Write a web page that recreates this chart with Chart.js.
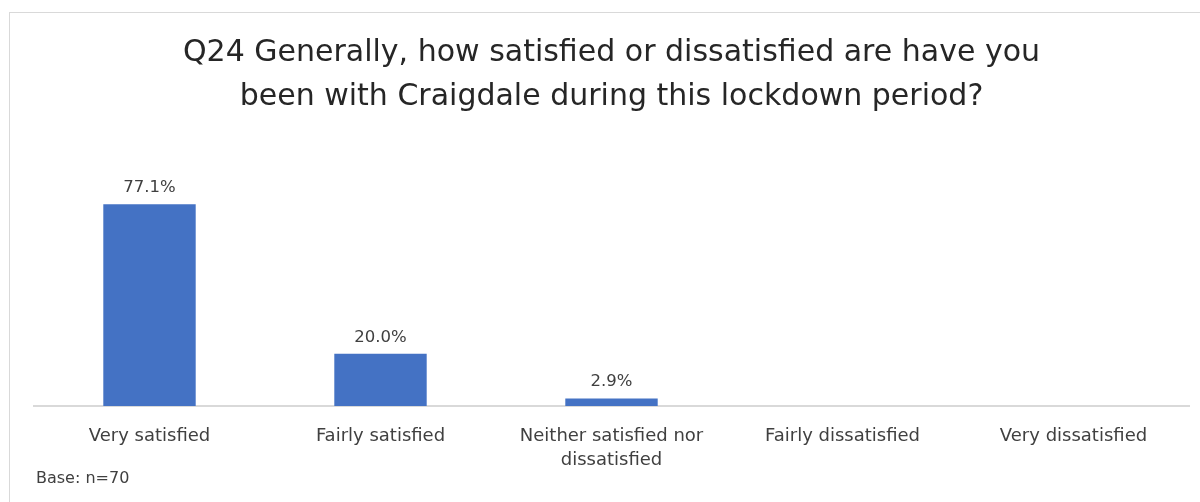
<!DOCTYPE html>
<html>
<head>
<meta charset="utf-8">
<script src="https://cdn.jsdelivr.net/npm/chart.js@4"></script>
<style>
  html, body { margin: 0; padding: 0; background: #fff; overflow: hidden; }
  #frame {
    position: absolute; left: 9px; top: 12px;
    width: 1200px; height: 500px;
    border: 1px solid #d9d9d9;
  }
</style>
</head>
<body>
<div id="frame"><canvas id="chart" width="1200" height="500"></canvas></div>
<script>
// Chart data
const categories = [
  'Very satisfied',
  'Fairly satisfied',
  ['Neither satisfied nor', 'dissatisfied'],
  'Fairly dissatisfied',
  'Very dissatisfied'
];
const percentages = [77.1, 20.0, 2.9, 0, 0];
const titleLines = [
  'Q24 Generally, how satisfied or dissatisfied are have you',
  'been with Craigdale during this lockdown period?'
];
const baseNote = 'Base: n=70';

const FONT = '"DejaVu Sans", sans-serif';
const TEXT = '#404040';

// draws % labels above non-zero bars and the base note
const barLabels = {
  id: 'barLabels',
  afterDatasetsDraw(chart) {
    const ctx = chart.ctx;
    const meta = chart.getDatasetMeta(0);
    ctx.save();
    ctx.fillStyle = TEXT;
    ctx.font = '16.5px ' + FONT;
    ctx.textAlign = 'center';
    ctx.textBaseline = 'bottom';
    meta.data.forEach((bar, i) => {
      const v = percentages[i];
      if (!v) return;
      ctx.fillText(v.toFixed(1) + '%', bar.x, bar.y - 8);
    });
    ctx.textAlign = 'left';
    ctx.textBaseline = 'middle';
    ctx.font = '16px ' + FONT;
    ctx.fillText(baseNote, 26, 466);
    ctx.restore();
  }
};

new Chart(document.getElementById('chart'), {
  type: 'bar',
  data: {
    labels: categories,
    datasets: [{
      data: percentages,
      backgroundColor: '#4472C4',
      categoryPercentage: 1,
      barPercentage: 0.4
    }]
  },
  options: {
    responsive: false,
    animation: false,
    layout: { padding: { left: 24, right: 21, top: 0, bottom: 12 } },
    plugins: {
      legend: { display: false },
      tooltip: { enabled: false },
      title: {
        display: true,
        text: titleLines,
        color: '#262626',
        font: { family: FONT, size: 30, weight: 'normal', lineHeight: 1.47 },
        padding: { top: 18, bottom: 25 }
      }
    },
    scales: {
      x: {
        grid: { display: false, drawTicks: false },
        border: { display: true, color: '#d9d9d9', width: 2 },
        ticks: {
          color: TEXT,
          font: { family: FONT, size: 18, lineHeight: 1.35 },
          padding: 18,
          maxRotation: 0,
          autoSkip: false
        },
        afterFit(scale) { scale.height = 95; }
      },
      y: {
        display: false,
        min: 0,
        max: 100
      }
    }
  },
  plugins: [barLabels]
});
</script>
</body>
</html>
